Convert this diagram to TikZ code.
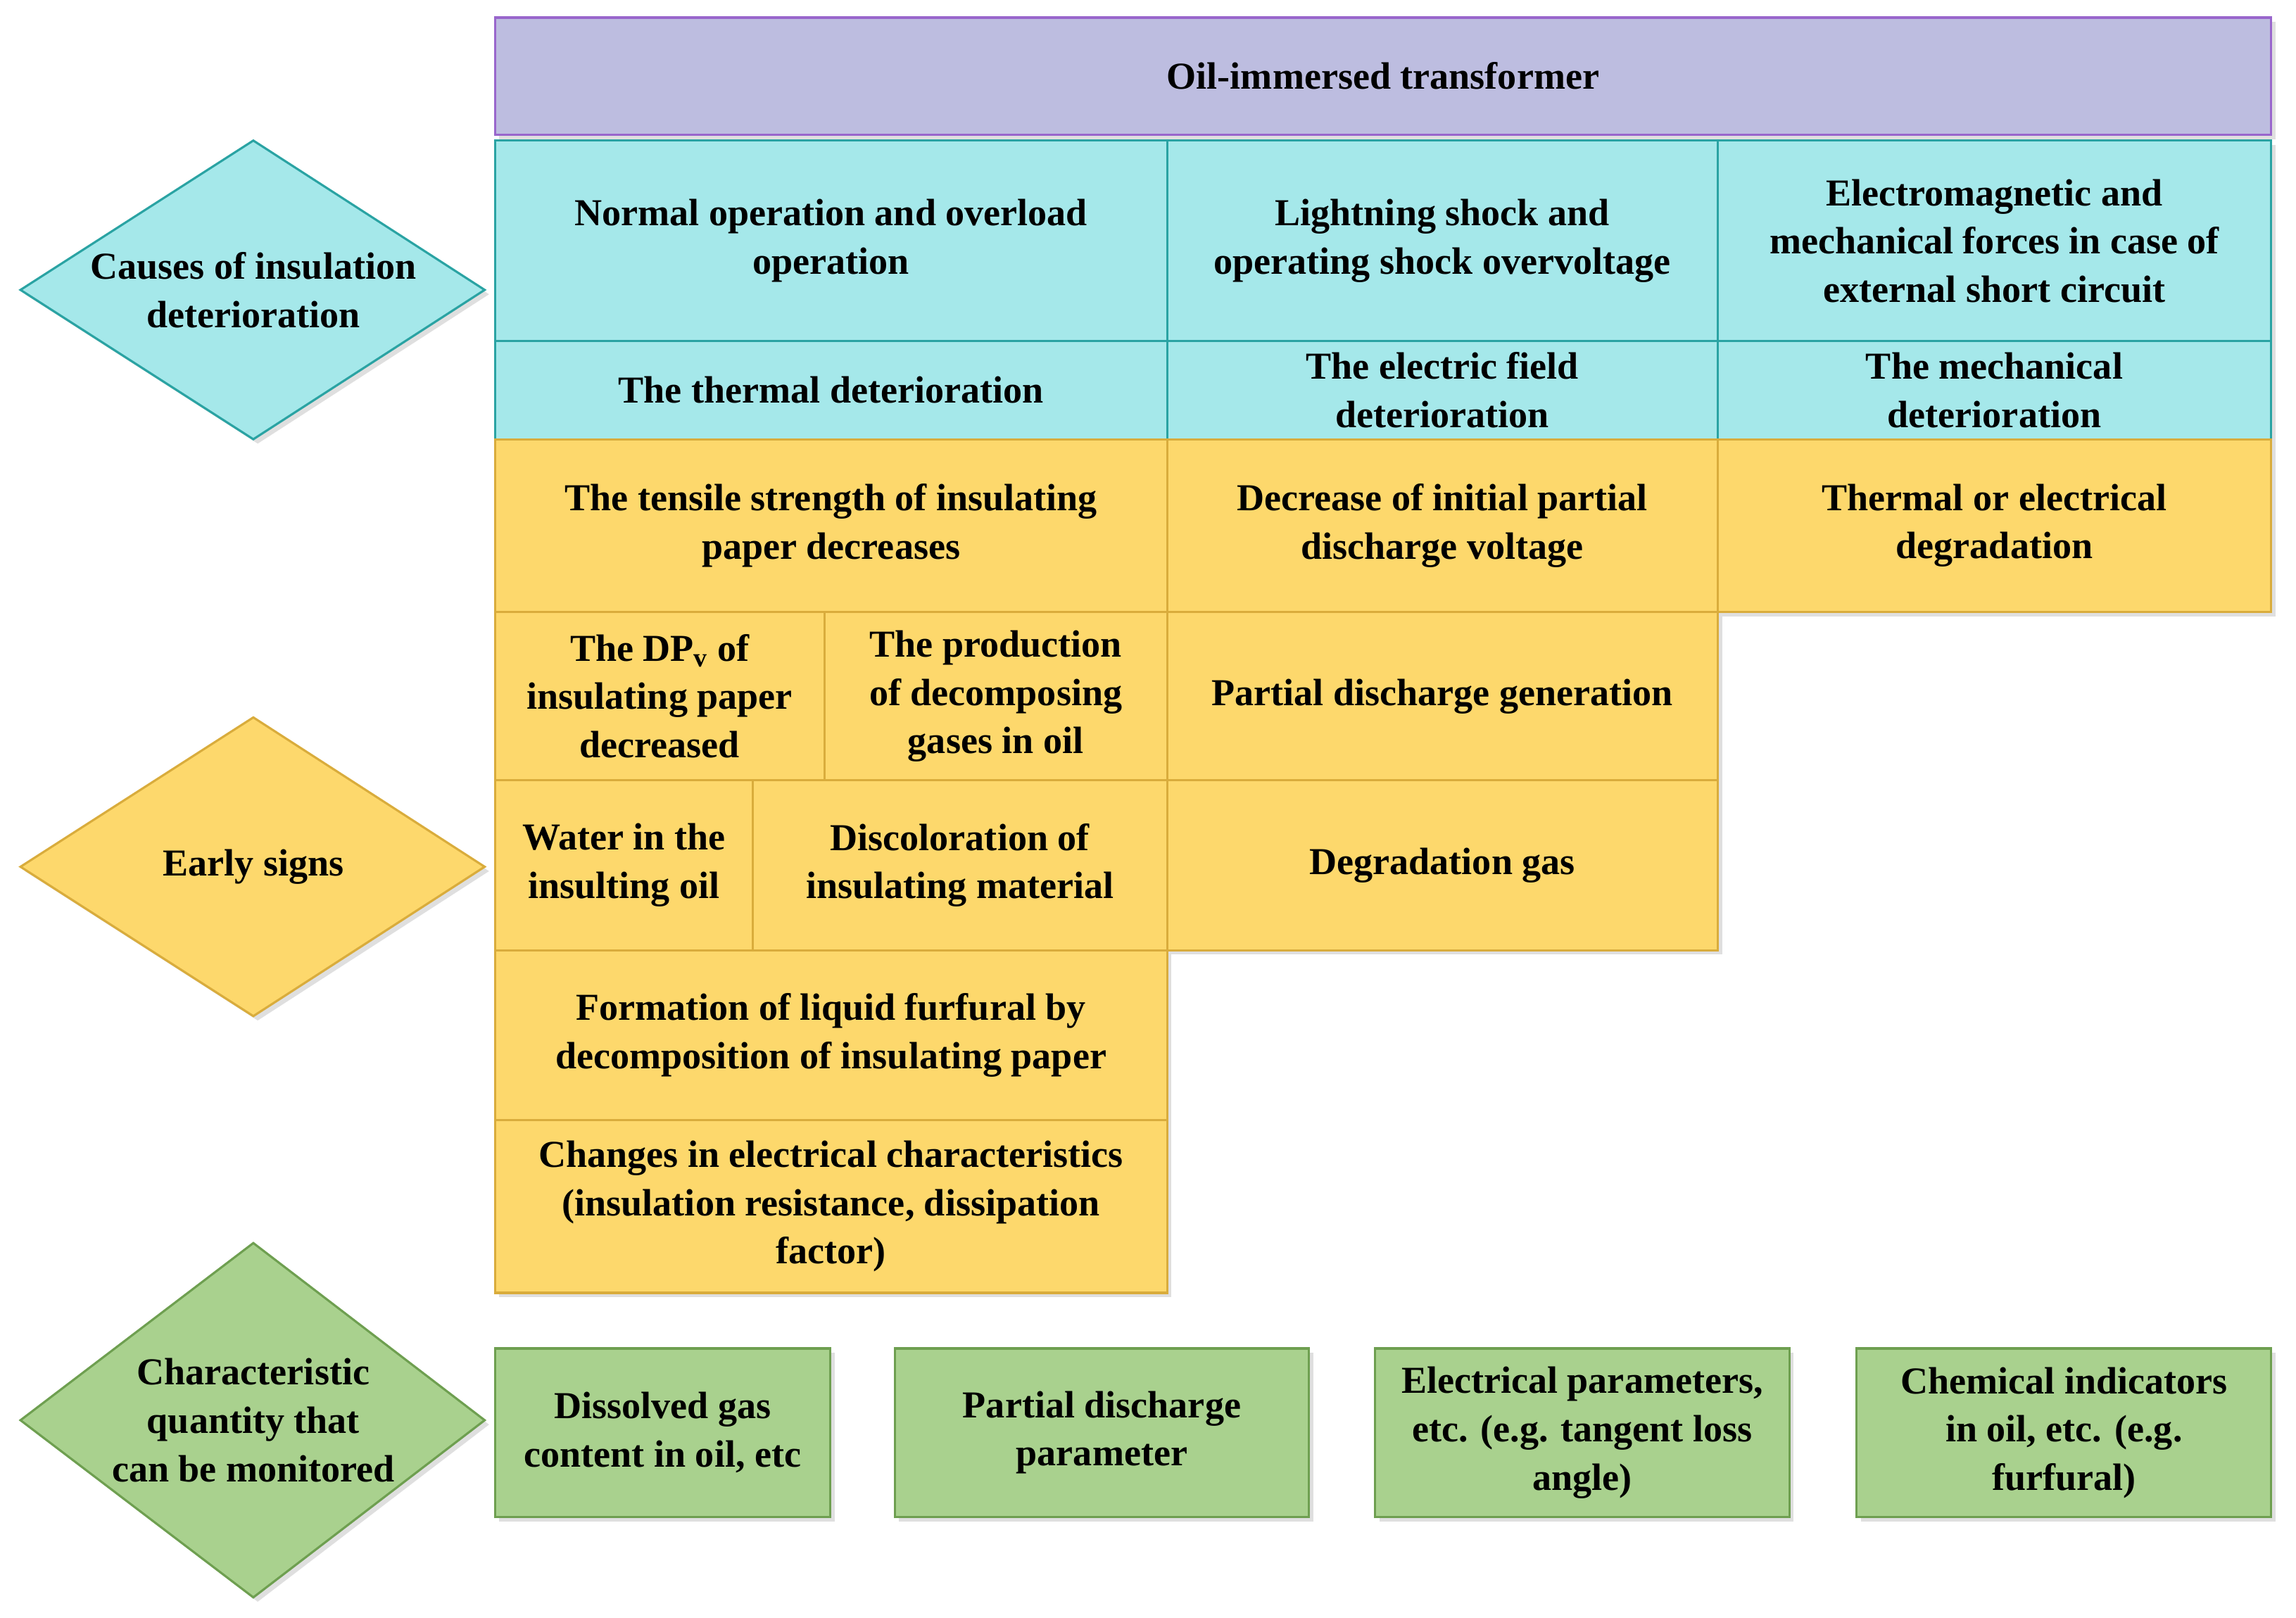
\documentclass[tikz,border=0pt]{standalone}
\usepackage{fontspec}
\setmainfont{Liberation Serif}
\usetikzlibrary{shapes.geometric,shadows}
\definecolor{lav}{HTML}{BDBDE0}\definecolor{lavb}{HTML}{9966CC}
\definecolor{tea}{HTML}{A5E8EA}\definecolor{teab}{HTML}{2AA3A3}
\definecolor{yel}{HTML}{FDD86C}\definecolor{yelb}{HTML}{D9AC3C}
\definecolor{gre}{HTML}{A9D18E}\definecolor{greb}{HTML}{6E9F50}
\begin{document}
\begin{tikzpicture}[x=1pt,y=-1pt,
 base/.style={font=\fontsize{26}{33}\selectfont\bfseries,align=center,line width=1.5pt,drop shadow={shadow xshift=3pt,shadow yshift=-3pt,opacity=0.25}},
 T/.style={base,fill=tea,draw=teab},
 Y/.style={base,fill=yel,draw=yelb},
 G/.style={base,fill=gre,draw=greb},
 L/.style={base,fill=lav,draw=lavb}]
\useasboundingbox (0,0) rectangle (1568,1105);
\newcommand{\bx}[7]{\draw[#1] (#2,#3) rectangle (#4,#5); \node[font=\fontsize{26}{33}\selectfont\bfseries,align=center] (#6) at ({(#2+#4)/2},{(#3+#5)/2}) {#7};}
\bx{L}{338}{12}{1551}{92}{t}{Oil-immersed transformer}
\bx{T}{338}{96}{797}{233}{a1}{Normal operation and overload\\operation}
\bx{T}{797}{96}{1173}{233}{a2}{Lightning shock and\\operating shock overvoltage}
\bx{T}{1173}{96}{1551}{233}{a3}{Electromagnetic and\\mechanical forces in case of\\external short circuit}
\bx{T}{338}{233}{797}{300}{b1}{The thermal deterioration}
\bx{T}{797}{233}{1173}{300}{b2}{The electric field\\deterioration}
\bx{T}{1173}{233}{1551}{300}{b3}{The mechanical\\deterioration}
\bx{Y}{338}{300}{797}{418}{c1}{The tensile strength of insulating\\paper decreases}
\bx{Y}{797}{300}{1173}{418}{c2}{Decrease of initial partial\\discharge voltage}
\bx{Y}{1173}{300}{1551}{418}{c3}{Thermal or electrical\\degradation}
\bx{Y}{338}{418}{563}{533}{d1}{The DP\textsubscript{v} of\\insulating paper\\decreased}
\bx{Y}{563}{418}{797}{533}{d2}{The production\\of decomposing\\gases in oil}
\bx{Y}{797}{418}{1173}{533}{d3}{Partial discharge generation}
\bx{Y}{338}{533}{514}{649}{e1}{Water in the\\insulting oil}
\bx{Y}{514}{533}{797}{649}{e2}{Discoloration of\\insulating material}
\bx{Y}{797}{533}{1173}{649}{e3}{Degradation gas}
\bx{Y}{338}{649}{797}{765}{f1}{Formation of liquid furfural by\\decomposition of insulating paper}
\bx{Y}{338}{765}{797}{883}{g1}{Changes in electrical characteristics\\(insulation resistance, dissipation\\factor)}
\bx{G}{338}{921}{567}{1036}{h1}{Dissolved gas\\content in oil, etc}
\bx{G}{611}{921}{894}{1036}{h2}{Partial discharge\\parameter}
\bx{G}{939}{921}{1222}{1036}{h3}{Electrical parameters,\\etc. (e.g. tangent loss\\angle)}
\bx{G}{1268}{921}{1551}{1036}{h4}{Chemical indicators\\in oil, etc. (e.g.\\furfural)}
\draw[T] (14,198)--(173,96)--(331,198)--(173,300)--cycle;
\node[font=\fontsize{26}{33}\selectfont\bfseries,align=center] (k1) at (173,198) {Causes of insulation\\deterioration};
\draw[Y] (14,592)--(173,490)--(331,592)--(173,694)--cycle;
\node[font=\fontsize{26}{33}\selectfont\bfseries,align=center] (k2) at (173,592) {Early signs};
\draw[G] (14,970)--(173,849)--(331,970)--(173,1091)--cycle;
\node[font=\fontsize{26}{33}\selectfont\bfseries,align=center] (k3) at (173,970) {Characteristic\\quantity that\\can be monitored};
\end{tikzpicture}
\end{document}
